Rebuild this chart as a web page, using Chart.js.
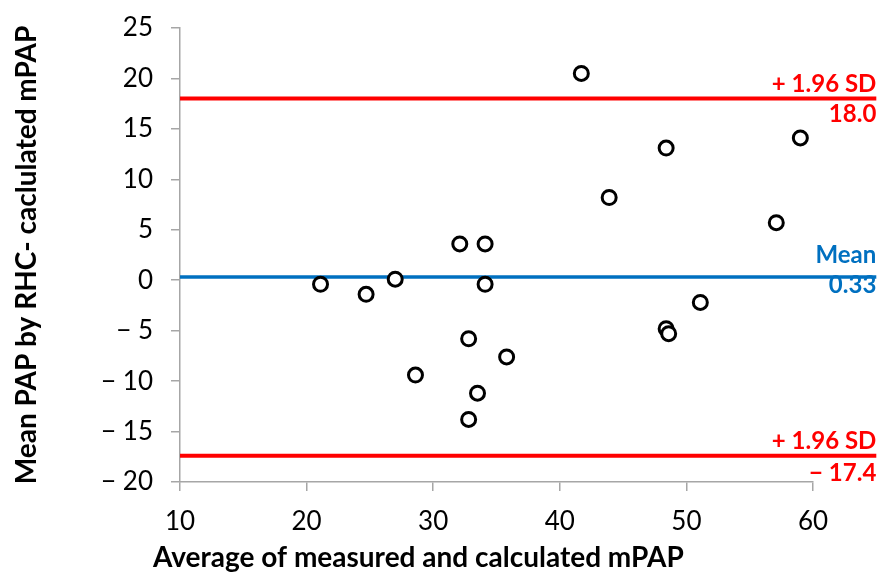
<!DOCTYPE html>
<html>
<head>
<meta charset="utf-8">
<script src="https://cdn.jsdelivr.net/npm/chart.js@4.4.1/dist/chart.umd.min.js"></script>
<style>
  html, body { margin: 0; padding: 0; background: #fff; }
  #wrap { width: 886px; height: 572px; }
</style>
</head>
<body>
<div id="wrap"><canvas id="chart" width="886" height="572"></canvas></div>
<script>
// Bland-Altman: average (x) vs difference (y)
const avgMpap = [21.1, 24.7, 27.0, 28.6, 32.1, 32.8, 32.8, 33.5, 34.1, 34.1, 35.8, 41.7, 43.9, 48.4, 48.4, 48.6, 51.1, 57.1, 59.0];
const diffMpap = [-0.4, -1.4, 0.1, -9.4, 3.6, -5.8, -13.8, -11.2, 3.6, -0.4, -7.6, 20.5, 8.2, 13.1, -4.8, -5.3, -2.2, 5.7, 14.1];

const xTicks = [10, 20, 30, 40, 50, 60];
const yTicks = [-20, -15, -10, -5, 0, 5, 10, 15, 20, 25];

// limits of agreement and mean bias
const refValues = [18.0, 0.33, -17.4];
const refTopText = ['+ 1.96 SD', 'Mean', '+ 1.96 SD'];
const refBottomText = ['18.0', '0.33', '\u2212 17.4'];
const refStartX = 10;
const refEndX = 65;

const xTitle = 'Average of measured and calculated mPAP';
const yTitle = 'Mean PAP by RHC- caclulated mPAP';

const RED = '#ff0000';
const BLUE = '#0070c0';
const refColors = [RED, BLUE, RED];
const refWidths = [4, 3.5, 4];
const refTopOffset = [-7, -14, -7];
const refBottomOffset = [23, 16, 25];

const fmtMinus = v => v < 0 ? '\u2212 ' + Math.abs(v) : String(v);

const refLabelPlugin = {
    id: 'refLabels',
    afterDatasetsDraw(chart) {
        const ctx = chart.ctx;
        const y = chart.scales.y;
        const x = chart.scales.x;
        const right = x.getPixelForValue(refEndX);
        ctx.save();
        ctx.font = 'bold 24px Lato';
        ctx.textAlign = 'right';
        ctx.textBaseline = 'alphabetic';
        refValues.forEach((v, i) => {
            const py = y.getPixelForValue(v);
            ctx.fillStyle = refColors[i];
            ctx.fillText(refTopText[i], right, py + refTopOffset[i]);
            ctx.fillText(refBottomText[i], right, py + refBottomOffset[i]);
        });
        // x axis title, sits left of the plot centre like the original
        ctx.fillStyle = '#000';
        ctx.textAlign = 'left';
        ctx.font = 'bold 28px Lato';
        ctx.fillText(xTitle, chart.chartArea.left - 27, 567);
        ctx.restore();
    }
};

const refDatasets = refValues.map((v, i) => ({
    type: 'line',
    data: [{ x: refStartX, y: v }, { x: refEndX, y: v }],
    borderColor: refColors[i],
    borderWidth: refWidths[i],
    pointRadius: 0,
    fill: false,
    clip: false,
    order: 2
}));

new Chart(document.getElementById('chart'), {
    type: 'scatter',
    data: {
        datasets: [
            ...refDatasets,
            {
                data: avgMpap.map((a, i) => ({ x: a, y: diffMpap[i] })),
                pointRadius: 7,
                pointBorderWidth: 3,
                pointBorderColor: '#000',
                pointBackgroundColor: '#fff',
                order: 1
            }
        ]
    },
    options: {
        responsive: false,
        animation: false,
        events: [],
        layout: { padding: { left: 0, right: 73, top: 28, bottom: 0 } },
        plugins: { legend: { display: false }, tooltip: { enabled: false } },
        scales: {
            x: {
                type: 'linear',
                min: 10,
                max: 60,
                afterBuildTicks: s => { s.ticks = xTicks.map(v => ({ value: v })); },
                afterFit: s => { s.height = 90; },
                grid: { drawOnChartArea: false, drawTicks: true, tickLength: 9, color: '#a6a6a6', lineWidth: 1.5 },
                border: { color: '#a6a6a6', width: 1.5 },
                ticks: { color: '#000', font: { family: 'Lato', size: 26 }, padding: 15, maxRotation: 0 }
            },
            y: {
                min: -20,
                max: 25,
                afterBuildTicks: s => { s.ticks = yTicks.map(v => ({ value: v })); },
                afterFit: s => { s.width = 180; s.paddingTop = 0; s.paddingBottom = 0; },
                grid: { drawOnChartArea: false, drawTicks: true, tickLength: 9, color: '#a6a6a6', lineWidth: 1.5 },
                border: { color: '#a6a6a6', width: 1.5 },
                ticks: { color: '#000', font: { family: 'Lato', size: 26 }, padding: 18, callback: v => fmtMinus(v) },
                title: { display: true, text: yTitle, color: '#000', font: { family: 'Lato', size: 28, weight: 'bold' }, padding: { top: 10, bottom: 0 } }
            }
        }
    },
    plugins: [refLabelPlugin]
});
</script>
</body>
</html>
